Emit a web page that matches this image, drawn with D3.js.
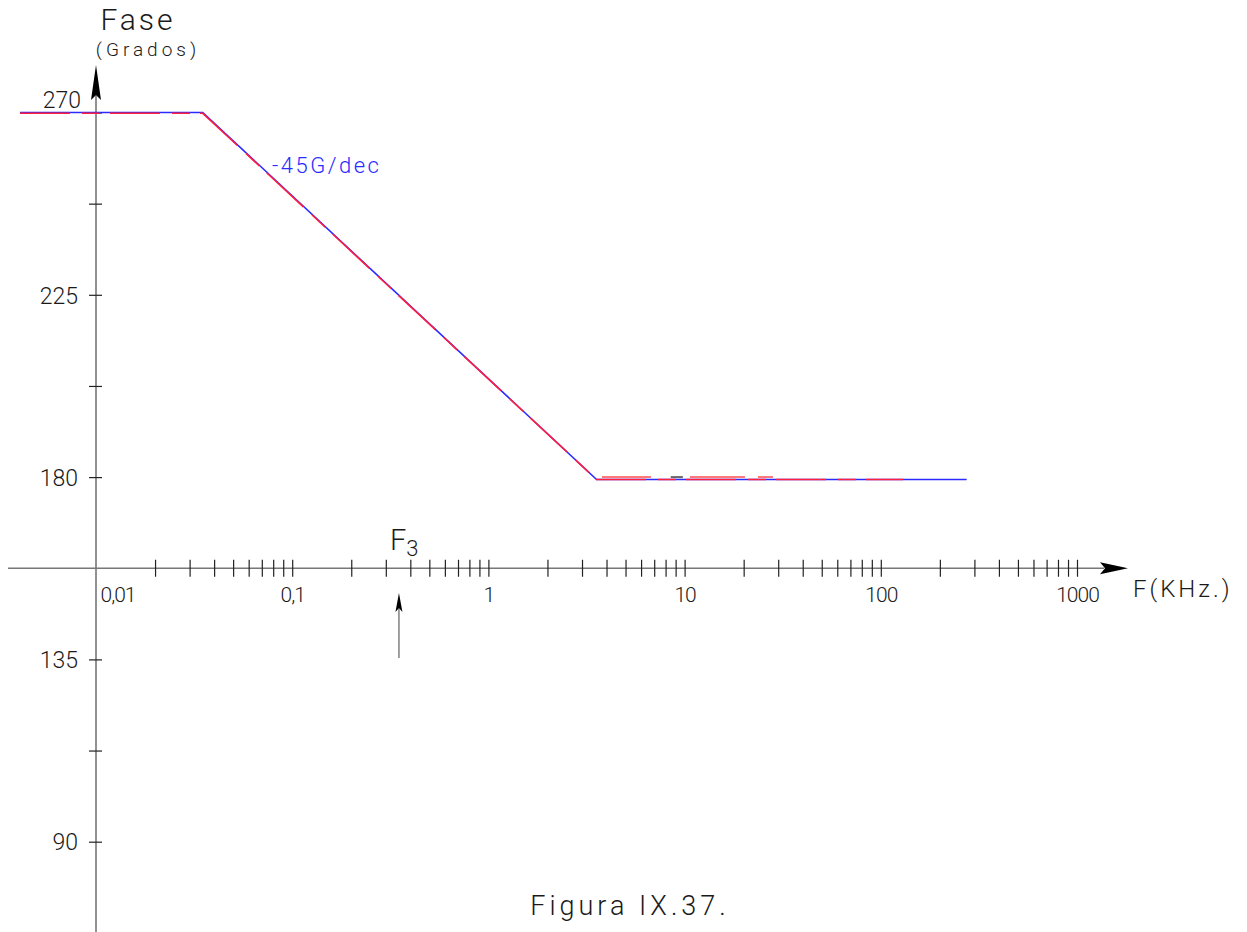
<!DOCTYPE html>
<html>
<head>
<meta charset="utf-8">
<script src="https://cdn.jsdelivr.net/npm/d3@7"></script>
<style>
  body { margin: 0; background: #fff; }
  svg { display: block; }
  text { font-family: Roboto, "DejaVu Sans", sans-serif; font-weight: 300; fill: #1a1a1a; }
</style>
</head>
<body>
<svg id="chart" width="1247" height="932"></svg>
<script>
// ---------- data ----------
const asymFreq  = [0.0041, 0.035, 3.56, 274];      // kHz (blue asymptote)
const asymPhase = [270, 270, 179.4, 179.4];         // degrees
const realFreq  = [0.0041, 0.035, 3.56, 130];       // kHz (red dashed)
const realPhase = [269.8, 269.8, 179.4, 179.4];
const ghostFreq  = [3.79, 28.2];                    // faint red trace at 180
const ghostPhase = [180, 180];
const grayFreq  = [8.5, 9.8];
const grayPhase = [180, 180];
const f3 = 0.35;                                    // F3 marker (kHz)

const xDecades = [0.01, 0.1, 1, 10, 100, 1000];
const xLabels  = ["0,01", "0,1", "1", "10", "100", "1000"];
const minorMult = [2, 3, 4, 5, 6, 7, 8, 9];
const yTickVals = [270, 247.5, 225, 202.5, 180, 135, 112.5, 90];
const yLabelVals = [270, 225, 180, 135, 90];
const yLabels    = ["270", "225", "180", "135", "90"];
const xAxisPhase = 157.5;

// ---------- scales ----------
const svg = d3.select("#chart");
const x = d3.scaleLog().domain([0.01, 1000]).range([96, 1077]);
const y = d3.scaleLinear().domain([90, 270]).range([841.7, 112.5]);
const x0 = x(0.01);
const yAx = y(xAxisPhase);

// ---------- y axis ----------
svg.append("line").attr("x1", x0).attr("x2", x0).attr("y1", 72).attr("y2", 932)
  .attr("stroke", "#777").attr("stroke-width", 1.6);
svg.append("path").attr("d", `M${x0},65 L${x0+5},100 L${x0},95 L${x0-5},100 Z`).attr("fill", "#000");

const yAxisG = svg.append("g").attr("transform", `translate(${x0},0)`)
  .call(d3.axisLeft(y).tickValues(yTickVals)
    .tickFormat(d => { const i = yLabelVals.indexOf(d); return i >= 0 ? yLabels[i] : ""; }));
yAxisG.select(".domain").remove();
yAxisG.selectAll(".tick line").attr("x1", -7).attr("x2", 6).attr("stroke", "#222").attr("stroke-width", 1.2);
yAxisG.selectAll(".tick text")
  .attr("x", d => d === 270 ? -15 : -18)
  .attr("dy", d => d === 270 ? "-0.2em" : "0.36em")
  .style("font-size", "23px").style("font-family", "Roboto, 'DejaVu Sans', sans-serif").attr("fill", "#1a1a1a");

// ---------- x axis ----------
svg.append("line").attr("x1", 8).attr("x2", 1104).attr("y1", yAx).attr("y2", yAx)
  .attr("stroke", "#777").attr("stroke-width", 1.6);
svg.append("path").attr("d", `M1128,${yAx} L1100,${yAx-6} L1105,${yAx} L1100,${yAx+6} Z`).attr("fill", "#000");

const xTicks = [];
xDecades.forEach((d, i) => {
  if (i > 0) xTicks.push(d);
  if (i < xDecades.length - 1) minorMult.forEach(m => xTicks.push(d * m));
});
const xAxisG = svg.append("g").attr("transform", `translate(0,${yAx})`)
  .call(d3.axisBottom(x).tickValues(xTicks.concat([0.01]))
    .tickFormat(d => { const i = xDecades.findIndex(v => Math.abs(v - d) < v * 1e-6); return i >= 0 ? xLabels[i] : ""; }));
xAxisG.select(".domain").remove();
xAxisG.selectAll(".tick line").attr("y1", d => d === 0.01 ? 0 : -8.5).attr("y2", d => d === 0.01 ? 0 : 8.5)
  .attr("stroke", "#222").attr("stroke-width", 1.2);
xAxisG.selectAll(".tick text")
  .attr("y", 34).attr("dy", 0)
  .attr("x", d => d === 0.01 ? 4 : 0)
  .attr("text-anchor", d => d === 0.01 ? "start" : "middle")
  .style("font-size", "21px").style("letter-spacing", "-1px")
  .style("font-family", "Roboto, 'DejaVu Sans', sans-serif").attr("fill", "#1a1a1a");

// ---------- lines ----------
const line = d3.line().x(d => x(d[0])).y(d => y(d[1]));
svg.append("path").datum(d3.zip(asymFreq, asymPhase)).attr("d", line)
  .attr("fill", "none").attr("stroke", "#2b2bff").attr("stroke-width", 1.6);
svg.append("path").datum(d3.zip(realFreq, realPhase)).attr("d", line)
  .attr("fill", "none").attr("stroke", "#ff2040").attr("stroke-width", 1.6)
  .attr("stroke-dasharray", "50,12,18,10");
svg.append("path").datum(d3.zip(ghostFreq, ghostPhase)).attr("d", line)
  .attr("fill", "none").attr("stroke", "#ff7a7a").attr("stroke-width", 2)
  .attr("stroke-dasharray", "49,39,55,13,15,300");
svg.append("path").datum(d3.zip(grayFreq, grayPhase)).attr("d", line)
  .attr("fill", "none").attr("stroke", "#666").attr("stroke-width", 2);

// ---------- F3 marker ----------
const xf = x(f3);
svg.append("line").attr("x1", xf).attr("x2", xf).attr("y1", 658).attr("y2", 605)
  .attr("stroke", "#777").attr("stroke-width", 1.4);
svg.append("path").attr("d", `M${xf},593 L${xf+3.5},612 L${xf},608 L${xf-3.5},612 Z`).attr("fill", "#000");
const f3t = svg.append("text").attr("x", xf - 9).attr("y", 550).style("font-size", "29px");
f3t.append("tspan").text("F");
f3t.append("tspan").attr("dy", 6).style("font-size", "22px").text("3");

// ---------- texts ----------
svg.append("text").attr("x", 138).attr("y", 30).attr("text-anchor", "middle")
  .style("font-size", "30px").style("letter-spacing", "3px").text("Fase");
svg.append("text").attr("x", 148).attr("y", 56).attr("text-anchor", "middle")
  .style("font-size", "19px").style("letter-spacing", "4px").text("(Grados)");
svg.append("text").attr("x", 272).attr("y", 173)
  .style("font-size", "22px").style("letter-spacing", "2.5px").style("fill", "#2b2bff").text("-45G/dec");
svg.append("text").attr("x", 1133).attr("y", 597)
  .style("font-size", "24px").style("letter-spacing", "3px").text("F(KHz.)");
svg.append("text").attr("x", 630).attr("y", 915).attr("text-anchor", "middle")
  .style("font-size", "27px").style("letter-spacing", "4px").text("Figura IX.37.");
</script>
</body>
</html>
